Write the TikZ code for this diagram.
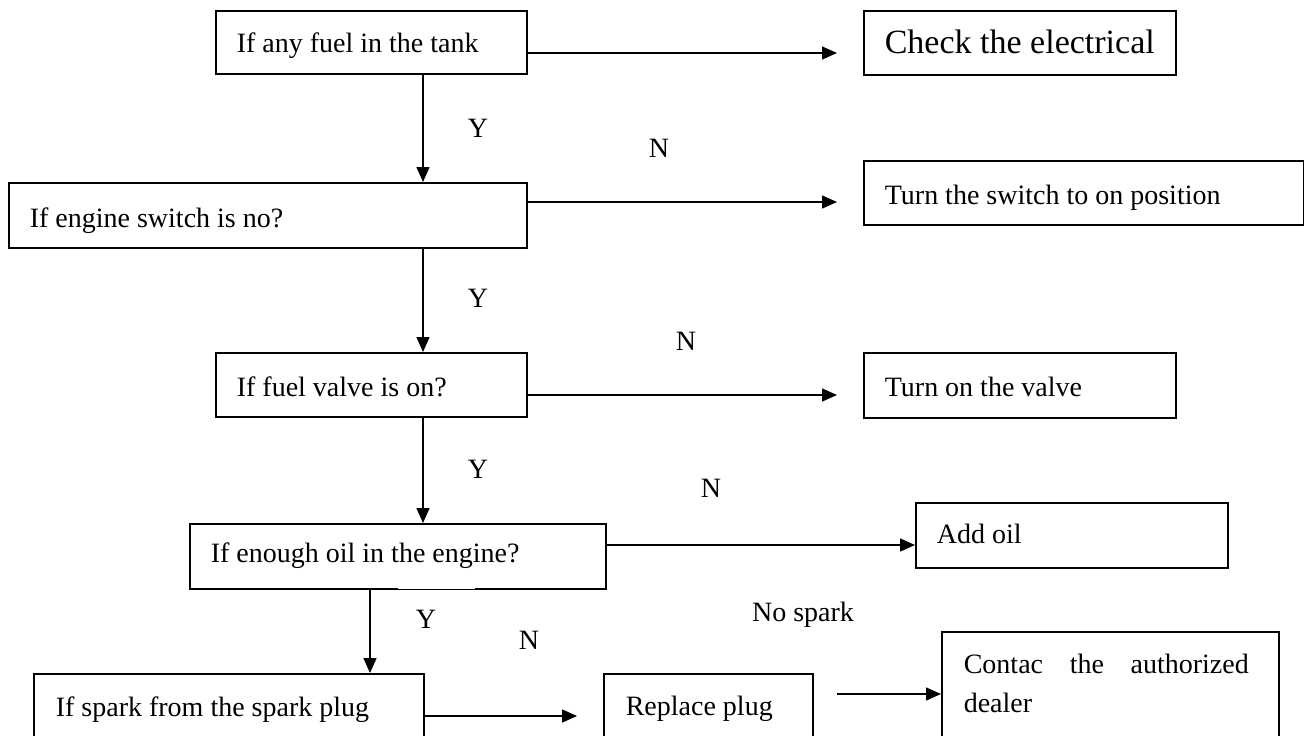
\documentclass[tikz,border=0pt]{standalone}
\usepackage{fontspec}
\setmainfont{Liberation Serif}
\usetikzlibrary{arrows.meta,calc}
\begin{document}
\begin{tikzpicture}[x=1pt,y=-1pt,
  box/.style={draw, line width=1.6pt, rectangle, anchor=north west, inner xsep=21pt, inner ysep=0pt, align=flush left, font=\fontsize{28}{39}\selectfont},
  arr/.style={line width=1.5pt, -{Triangle[length=15pt,width=13pt]}},
  lbl/.style={font=\fontsize{28}{34}\selectfont, inner sep=0pt, anchor=base}]
\path[use as bounding box] (0,0) rectangle (1304,736);
\clip (0,0) rectangle (1304,736);

% boxes
\node[box, text width=269pt, text height=42pt, text depth=21pt] (b1) at (215,10) {If any fuel in the tank};
\node[box, text width=476pt, text height=45pt, text depth=20pt] (b2) at (8,182) {If engine switch is no?};
\node[box, font=\fontsize{34}{40}\selectfont, text width=270pt, text height=43pt, text depth=21pt] (e1) at (863,10) {Check the electrical};
\node[box, text width=398pt, text height=44pt, text depth=20pt] (e2) at (863,160) {Turn the switch to on position};
\node[box, text width=269pt, text height=44pt, text depth=20pt] (b3) at (215,352) {If fuel valve is on?};
\node[box, text width=270pt, text height=44pt, text depth=21pt] (e3) at (863,352) {Turn on the valve};
\node[box, text width=374pt, text height=39pt, text depth=26pt] (b4) at (189,523) {If enough oil in the engine?};
\node[box, text width=270pt, text height=41pt, text depth=24pt] (e4) at (915,502) {Add oil};
\node[box, inner xsep=22pt, text width=346pt, text height=43pt, text depth=60pt] (b5) at (33,673) {If spark from the spark plug};
\node[box, inner xsep=22pt, text width=165pt, text height=42pt, text depth=60pt] (e5) at (603,673) {Replace plug};
\node[box, inner xsep=22pt, text width=293pt, text height=42pt, text depth=100pt] (e6) at (941,631) {\makebox[285pt][s]{Contac the authorized}\\dealer};

% gap in the bottom border of b4
\draw[white, line width=2.6pt] (398,588) -- (475,588);

% helper coordinates
\coordinate (t1) at (837,53);
\coordinate (t2) at (837,202);
\coordinate (t3) at (837,395);
\coordinate (h4) at (0,545);
\coordinate (t5) at (577,716);
\coordinate (s6) at (837,694);
\coordinate (vx) at (423,0);
\coordinate (vy) at (370,0);

% horizontal connectors
\draw[arr] (b1.east |- t1) -- (t1);
\draw[arr] (b2.east |- t2) -- (t2);
\draw[arr] (b3.east |- t3) -- (t3);
\draw[arr] (b4.east |- h4) -- (e4.west |- h4);
\draw[arr] (b5.east |- t5) -- (t5);
\draw[arr] (s6) -- (e6.west |- s6);

% vertical connectors
\draw[arr] (b1.south -| vx) -- (b2.north -| vx);
\draw[arr] (b2.south -| vx) -- (b3.north -| vx);
\draw[arr] (b3.south -| vx) -- (b4.north -| vx);
\draw[arr] (b4.south -| vy) -- (b5.north -| vy);

% labels
\node[lbl] (y1) at (478,137) {Y};
\node[lbl] (n1) at (659,157) {N};
\node[lbl] (y2) at (478,307) {Y};
\node[lbl] (n2) at (686,350) {N};
\node[lbl] (y3) at (478,478) {Y};
\node[lbl] (n3) at (711,497) {N};
\node[lbl] (y4) at (426,628) {Y};
\node[lbl] (n4) at (529,649) {N};
\node[lbl] (ns) at (803,621) {No spark};
\end{tikzpicture}
\end{document}
